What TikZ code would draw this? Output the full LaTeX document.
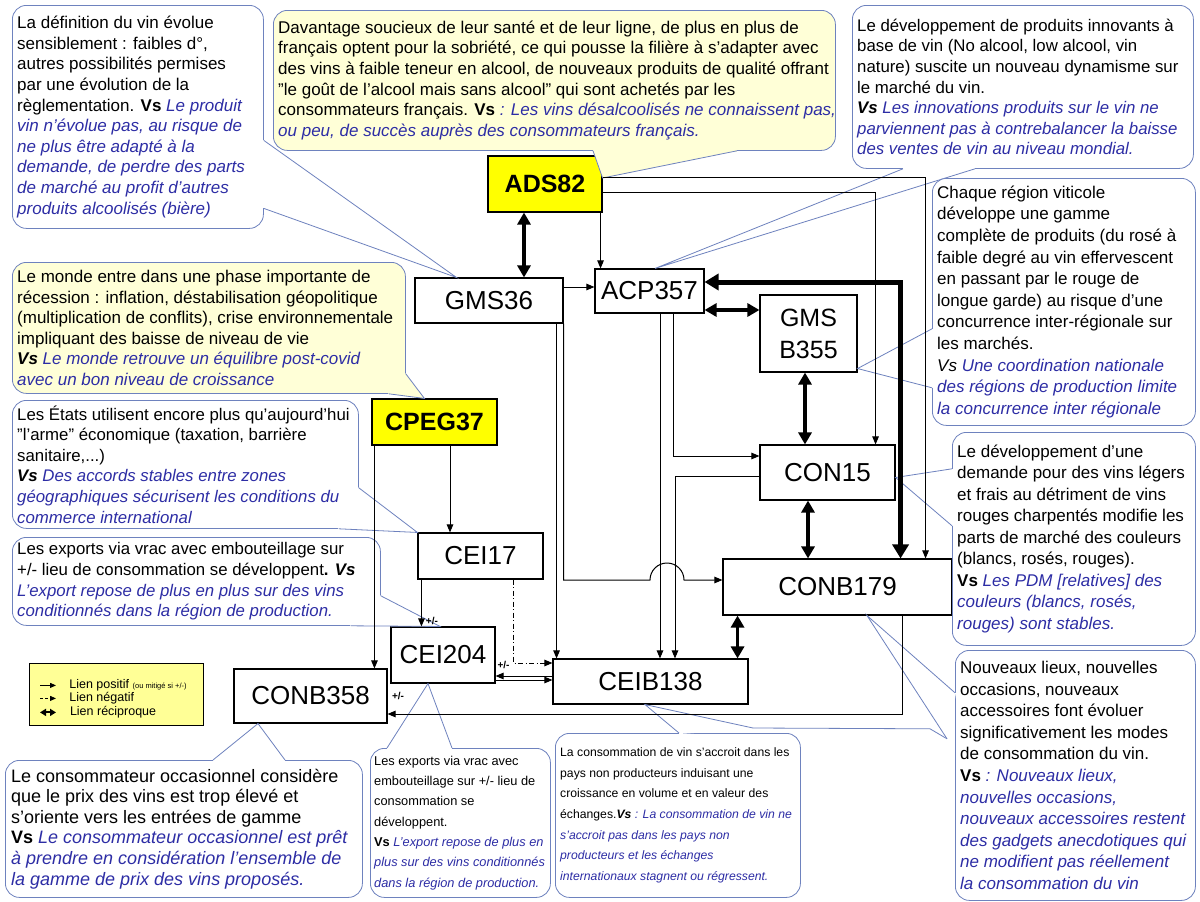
\documentclass[tikz,border=0pt]{standalone}
\usepackage{fontspec}
\setmainfont{Liberation Sans}
\usetikzlibrary{arrows.meta,positioning}
\definecolor{bord}{RGB}{110,130,190}
\definecolor{bleuvs}{RGB}{45,45,165}
\definecolor{jaunep}{RGB}{255,255,215}
\definecolor{jaune}{RGB}{255,255,0}
\definecolor{jauneleg}{RGB}{255,255,150}
\newcommand{\vs}[1]{{\color{bleuvs}\itshape #1}}
\newcommand{\taille}[2][20.6]{\fontsize{#2}{#1}\selectfont}
% queue d'une bulle : couleur, base, pointe, base
\newcommand{\queue}[4]{%
  \fill[#1] #2 -- #3 -- #4 -- cycle;
  \draw[#1,line width=2pt] #2 -- #4;
  \draw[bord,line width=0.8pt] #2 -- #3 -- #4;}

\begin{document}
\begin{tikzpicture}[x=1pt,y=1pt,
  bloc/.style={draw,fill=white,line width=1.1pt,inner sep=0pt,font=\fontsize{26}{30}\selectfont},
  blocj/.style={bloc,fill=jaune,font=\fontsize{25}{30}\selectfont\bfseries},
  bulle/.style={draw=bord,line width=0.8pt,rounded corners=14pt,anchor=north west,inner sep=0pt},
  texte/.style={align=left,inner sep=0pt,anchor=west},
  lien/.style={-{Triangle[length=8pt,width=6.5pt]},line width=1pt},
  neg/.style={lien,dash pattern=on 5pt off 2.5pt on 1pt off 2.5pt},
  recip/.style={{Triangle[length=12pt,width=13pt]}-{Triangle[length=12pt,width=13pt]},line width=3.5pt},
  recipg/.style={{Triangle[length=14pt,width=16pt]}-{Triangle[length=14pt,width=16pt]},line width=5pt},
  pm/.style={font=\fontsize{10}{10}\selectfont\bfseries,inner sep=1pt},
  legtxt/.style={right=13pt,inner sep=0pt,font=\fontsize{12.5}{12.5}\selectfont}]
  \fill[white] (0,0) rectangle (1200,-902);
  \useasboundingbox (0,0) rectangle (1200,-902);

  % variables
  \node[blocj,minimum width=114,minimum height=56] (ADS82) at (545,-184) {ADS82};
  \node[bloc,minimum width=148,minimum height=45] (GMS36) at (489,-300.5) {GMS36};
  \node[bloc,minimum width=109,minimum height=44] (ACP357) at (649.5,-291) {ACP357};
  \node[bloc,minimum width=97,minimum height=77,align=center,font=\fontsize{25}{32}\selectfont] (GMSB355) at (808.5,-333.5) {GMS\\B355};
  \node[bloc,minimum width=135,minimum height=55] (CON15) at (827.5,-472.5) {CON15};
  \node[bloc,minimum width=229,minimum height=56] (CONB179) at (837.5,-587) {CONB179};
  \node[blocj,minimum width=125,minimum height=46] (CPEG37) at (434.5,-422) {CPEG37};
  \node[bloc,minimum width=125,minimum height=46] (CEI17) at (480.5,-556) {CEI17};
  \node[bloc,minimum width=104,minimum height=56] (CEI204) at (443,-655) {CEI204};
  \node[bloc,minimum width=195,minimum height=45] (CEIB138) at (650.5,-681.5) {CEIB138};
  \node[bloc,minimum width=153,minimum height=54] (CONB358) at (310.5,-696) {CONB358};

  % bulles
  \node[bulle,fill=white,minimum width=251,minimum height=223] (b1) at (12,-5) {};
  \node[texte,font={\taille{17}}] at ([xshift=5]b1.west) {La définition du vin évolue\\
    sensiblement : faibles d°,\\
    autres possibilités permises\\
    par une évolution de la\\
    règlementation. \textbf{Vs} \vs{Le produit}\\
    \vs{vin n'évolue pas, au risque de}\\
    \vs{ne plus être adapté à la}\\
    \vs{demande, de perdre des parts}\\
    \vs{de marché au profit d'autres}\\
    \vs{produits alcoolisés (bière)}};
  \queue{white}{([yshift=-23.5]b1.east)}{([xshift=42]GMS36.north west)}{([yshift=-91.5]b1.east)}

  \node[bulle,fill=jaunep,minimum width=562,minimum height=140] (b2) at (273,-10) {};
  \node[texte,font={\taille{17}}] at ([xshift=5]b2.west) {Davantage soucieux de leur santé et de leur ligne, de plus en plus de\\
    français optent pour la sobriété, ce qui pousse la filière à s'adapter avec\\
    des vins à faible teneur en alcool, de nouveaux produits de qualité offrant\\
    "le goût de l'alcool mais sans alcool" qui sont achetés par les\\
    consommateurs français. \textbf{Vs} \vs{: Les vins désalcoolisés ne connaissent pas,}\\
    \vs{ou peu, de succès auprès des consommateurs français.}};
  \queue{jaunep}{([xshift=320]b2.south west)}{([yshift=6]ADS82.east)}{([xshift=464]b2.south west)}

  \node[bulle,fill=jaunep,minimum width=393,minimum height=131] (b3) at (12,-262) {};
  \node[texte,font={\taille{17}}] at ([xshift=5]b3.west) {Le monde entre dans une phase importante de\\
    récession : inflation, déstabilisation géopolitique\\
    (multiplication de conflits), crise environnementale\\
    impliquant des baisse de niveau de vie\\
    \textbf{\textit{Vs}} \vs{Le monde retrouve un équilibre post-covid}\\
    \vs{avec un bon niveau de croissance}};
  \queue{jaunep}{([yshift=20]b3.south east)}{([xshift=53]CPEG37.north west)}{([xshift=-17]b3.south east)}

  \node[bulle,fill=white,minimum width=346,minimum height=128] (b4) at (12,-400) {};
  \node[texte,font={\taille{16.8}}] at ([xshift=5]b4.west) {Les États utilisent encore plus qu'aujourd'hui\\
    "l'arme" économique (taxation, barrière\\
    sanitaire,...)\\
    \textbf{\textit{Vs}} \vs{Des accords stables entre zones}\\
    \vs{géographiques sécurisent les conditions du}\\
    \vs{commerce international}};
  \queue{white}{([yshift=41]b4.south east)}{(CEI17.north west)}{([xshift=-20]b4.south east)}

  \node[bulle,fill=white,minimum width=341,minimum height=163] (b5) at (852,-5) {};
  \node[texte,font={\taille{16.8}}] at ([xshift=5]b5.west) {Le développement de produits innovants à\\
    base de vin (No alcool, low alcool, vin\\
    nature) suscite un nouveau dynamisme sur\\
    le marché du vin.\\
    \textbf{\textit{Vs}} \vs{Les innovations produits sur le vin ne}\\
    \vs{parviennent pas à contrebalancer la baisse}\\
    \vs{des ventes de vin au niveau mondial.}};
  \queue{white}{([xshift=51]b5.south west)}{([xshift=5.5]ACP357.north)}{([xshift=123]b5.south west)}

  \node[bulle,fill=white,minimum width=263,minimum height=247] (b6) at (932,-178) {};
  \node[texte,font={\taille[21.6]{17}}] at ([xshift=5]b6.west) {Chaque région viticole\\
    développe une gamme\\
    complète de produits (du rosé à\\
    faible degré au vin effervescent\\
    en passant par le rouge de\\
    longue garde) au risque d'une\\
    concurrence inter-régionale sur\\
    les marchés.\\
    \textit{Vs} \vs{Une coordination nationale}\\
    \vs{des régions de production limite}\\
    \vs{la concurrence inter régionale}};
  \queue{white}{([yshift=97]b6.south west)}{([yshift=4]GMSB355.south east)}{([yshift=38]b6.south west)}

  \node[bulle,fill=white,minimum width=368,minimum height=88] (b7) at (12,-537) {};
  \node[texte,font={\taille{16.8}}] at ([xshift=5]b7.west) {Les exports via vrac avec embouteillage sur\\
    +/- lieu de consommation se développent\textbf{.} \textbf{\textit{Vs}}\\
    \vs{L'export repose de plus en plus sur des vins}\\
    \vs{conditionnés dans la région de production.}};
  \queue{white}{([yshift=30]b7.south east)}{([xshift=-3]CEI204.north)}{([xshift=-30]b7.south east)}

  \node[bulle,fill=white,minimum width=180,minimum height=149] (b8) at (370,-748) {};
  \node[texte,font={\taille[20.3]{12.8}}] at ([xshift=4]b8.west) {Les exports via vrac avec\\
    embouteillage sur +/- lieu de\\
    consommation se\\
    développent.\\
    \textbf{Vs} \vs{L'export repose de plus en}\\
    \vs{plus sur des vins conditionnés}\\
    \vs{dans la région de production.}};
  \queue{white}{([xshift=17]b8.north west)}{([xshift=-15]CEI204.south)}{([xshift=82]b8.north west)}

  \node[bulle,fill=white,minimum width=357,minimum height=137] (b9) at (5,-760) {};
  \node[texte,font={\taille{18}}] at ([xshift=6]b9.west) {Le consommateur occasionnel considère\\
    que le prix des vins est trop élevé et\\
    s'oriente vers les entrées de gamme\\
    \textbf{Vs} \vs{Le consommateur occasionnel est prêt}\\
    \vs{à prendre en considération l'ensemble de}\\
    \vs{la gamme de prix des vins proposés.}};
  \queue{white}{([xshift=208]b9.north west)}{([xshift=-52.5]CONB358.south)}{([xshift=280]b9.north west)}

  \node[bulle,fill=white,minimum width=245,minimum height=164] (b10) at (555,-733) {};
  \node[texte,font={\taille[20.7]{12.2}}] at ([xshift=5]b10.west) {La consommation de vin s'accroit dans les\\
    pays non producteurs induisant une\\
    croissance en volume et en valeur des\\
    échanges.\textbf{\textit{Vs}} \vs{: La consommation de vin ne}\\
    \vs{s'accroit pas dans les pays non}\\
    \vs{producteurs et les échanges}\\
    \vs{internationaux stagnent ou régressent.}};
  \queue{white}{([xshift=124]b10.north west)}{([xshift=-5.5]CEIB138.south)}{([xshift=198,yshift=5]b10.north west)}

  \node[bulle,fill=white,minimum width=240,minimum height=250] (b12) at (955,-650) {};
  \node[texte,font={\taille[21.6]{17}}] at ([xshift=5]b12.west) {Nouveaux lieux, nouvelles\\
    occasions, nouveaux\\
    accessoires font évoluer\\
    significativement les modes\\
    de consommation du vin.\\
    \textbf{Vs} \vs{: Nouveaux lieux,}\\
    \vs{nouvelles occasions,}\\
    \vs{nouveaux accessoires restent}\\
    \vs{des gadgets anecdotiques qui}\\
    \vs{ne modifient pas réellement}\\
    \vs{la consommation du vin}};
  \queue{white}{([yshift=208]b12.south west)}{([xshift=29.5]CONB179.south)}{([xshift=-8,yshift=162]b12.south west)}
  \draw[bord,line width=0.8pt] ([xshift=198,yshift=5]b10.north west) -- ([xshift=-25,yshift=172]b12.south west) -- ([xshift=-8,yshift=162]b12.south west);

  \node[bulle,fill=white,minimum width=243,minimum height=213] (b11) at (952,-432) {};
  \node[texte,font={\taille[21.5]{17}}] at ([xshift=5]b11.west) {Le développement d'une\\
    demande pour des vins légers\\
    et frais au détriment de vins\\
    rouges charpentés modifie les\\
    parts de marché des couleurs\\
    (blancs, rosés, rouges).\\
    \textbf{Vs} \vs{Les PDM [relatives] des}\\
    \vs{couleurs (blancs, rosés,}\\
    \vs{rouges) sont stables.}};
  \queue{white}{([yshift=177]b11.south west)}{([yshift=-5]CON15.east)}{([yshift=120]b11.south west)}

  % liens
  \draw[recip] ([xshift=-21]ADS82.south) -- ([xshift=-21]ADS82.south |- GMS36.north);
  \draw[lien] ([xshift=-2]ADS82.south east) -- ([xshift=-2]ADS82.south east |- ACP357.north);
  \draw[lien] ([yshift=7]ADS82.east) -| ([xshift=-27]CONB179.north east);
  \draw[lien] ([yshift=-8]ADS82.east) -| ([xshift=-20]CON15.north east);
  \draw[lien] ([yshift=13.5]GMS36.east) -- ([yshift=13.5]GMS36.east -| ACP357.west);
  \draw[lien] ([xshift=-7]GMS36.south east) -- ([xshift=-7]GMS36.south east |- CEIB138.north);
  \coordinate (saut) at (667,-580);
  \draw[lien] (GMS36.south east) |- ([xshift=-17]saut) arc[start angle=180,end angle=0,radius=17pt] -- (saut -| CONB179.west);
  \draw[recip] ([yshift=-19]ACP357.east) -- ([yshift=-19]ACP357.east -| GMSB355.west);
  \draw[recipg] ([yshift=9]ACP357.east) -| ([xshift=-52]CONB179.north east);
  \draw[lien] ([xshift=10.5]ACP357.south) -- ([xshift=10.5]ACP357.south |- CEIB138.north);
  \draw[lien] ([xshift=23.5]ACP357.south) |- ([yshift=16.5]CON15.west);
  \draw[lien] ([yshift=-3.5]CON15.west) -| ([xshift=24.5]CEIB138.north);
  \draw[recip] ([xshift=-3.5]GMSB355.south) -- ([xshift=-3.5]GMSB355.south |- CON15.north);
  \draw[recip] ([xshift=-19.5]CON15.south) -- ([xshift=-19.5]CON15.south |- CONB179.north);
  \draw[recip] ([xshift=-11]CEIB138.north east) -- ([xshift=-11]CEIB138.north east |- CONB179.south);
  \draw[lien] ([xshift=15.5]CPEG37.south) -- ([xshift=15.5]CPEG37.south |- CEI17.north);
  \draw[lien] ([xshift=3]CPEG37.south west) -- ([xshift=3]CPEG37.south west |- CONB358.north);
  \draw[lien] ([xshift=4]CEI17.south west) -- ([xshift=4]CEI17.south west |- CEI204.north)
    node[pm,pos=1,anchor=south west,xshift=3pt]{+/-};
  \draw[neg] ([xshift=-30]CEI17.south east) |- ([yshift=18.5]CEIB138.west);
  \draw[lien] ([yshift=5.5]CEIB138.west) -- ([yshift=5.5]CEIB138.west -| CEI204.east);
  \draw[lien] ([yshift=-25]CEI204.east) -- ([yshift=-25]CEI204.east -| CEIB138.west);
  \node[pm] at ([xshift=8,yshift=-10]CEI204.east) {+/-};
  \draw[lien] ([xshift=-50]CONB179.south east) |- ([yshift=-18]CONB358.east)
    node[pm,pos=1,anchor=south west,xshift=3pt,yshift=13pt]{+/-};

  % legende
  \node[draw,fill=jauneleg,line width=0.8pt,minimum width=174,minimum height=62,anchor=north west,inner sep=0pt] (leg) at (29,-663) {};
  \draw[-{Triangle[length=6pt,width=5pt]},line width=0.8pt] ([xshift=11,yshift=9]leg.west) -- ++(16,0)
    node[legtxt]{Lien positif {\fontsize{7.5}{8}\selectfont (ou mitigé si +/-)}};
  \draw[-{Triangle[length=6pt,width=5pt]},line width=0.8pt,dash pattern=on 3pt off 2pt] ([xshift=11,yshift=-4]leg.west) -- ++(16,0)
    node[legtxt]{Lien négatif};
  \draw[{Triangle[length=6pt,width=7pt]}-{Triangle[length=6pt,width=7pt]},line width=2pt] ([xshift=11,yshift=-18]leg.west) -- ++(16,0)
    node[legtxt]{Lien réciproque};
\end{tikzpicture}
\end{document}
